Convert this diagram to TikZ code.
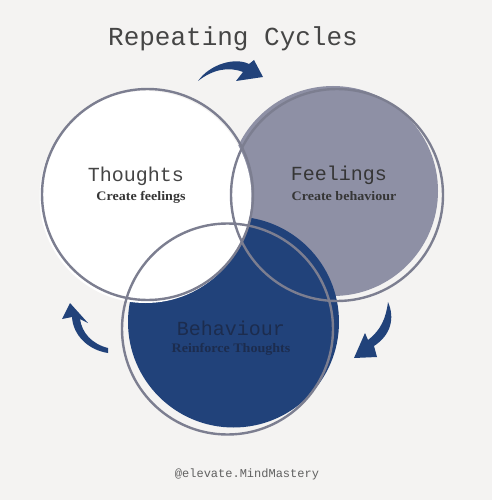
\documentclass[tikz,border=0pt]{standalone}
\usepackage{fontspec}
\setmainfont{Liberation Serif}
\newfontfamily\monof{Liberation Mono}
\newfontfamily\subf[FakeStretch=1.08]{Liberation Serif Bold}
\definecolor{bgc}{HTML}{F4F3F2}
\definecolor{ringc}{HTML}{7C7E90}
\definecolor{grayfill}{HTML}{8E90A5}
\definecolor{bluefill}{HTML}{21427A}
\definecolor{txtc}{HTML}{454545}
\definecolor{subc}{HTML}{363636}
\definecolor{navytxt}{HTML}{1C2C4E}
\tikzset{
  ring/.style={draw=ringc, line width=2.4pt},
  headtxt/.style={font=\monof\fontsize{20}{24}\selectfont, text=txtc, anchor=base, inner sep=0pt},
  subtxt/.style={font=\subf\fontsize{13}{15}\selectfont, text=subc, anchor=base, inner sep=0pt},
  curvearrow/.style={fill=bluefill},
}
\begin{document}
\begin{tikzpicture}[x=1pt,y=-1pt]
\useasboundingbox (0,0) rectangle (492,500);
\fill[bgc] (0,0) rectangle (492,500);
% fills
\fill[grayfill] (333,191) circle (105);
\fill[bluefill] (233.5,322) circle (105.5);
\fill[white] (145.5,197) circle (106);
% outlines
\draw[ring] (147.5,194.5) circle (105.5);
\draw[ring] (337,195) circle (106);
\draw[ring] (227.5,329) circle (105.5);
% title
\node[font=\monof\fontsize{26}{30}\selectfont, text=txtc, anchor=base, inner sep=0pt] (title) at (233,46) {Repeating Cycles};
% labels
\node[headtxt] (th) at (136,181) {Thoughts};
\node[subtxt] (ths) at (141,200) {Create feelings};
\node[headtxt, text=subc] (fe) at (339,180) {Feelings};
\node[subtxt] (fes) at (344,200) {Create behaviour};
\node[headtxt, text=navytxt] (be) at (231,335) {Behaviour};
\node[subtxt, text=navytxt] (bes) at (231,352) {Reinforce Thoughts};
% footer
\node[font=\monof\fontsize{12}{14}\selectfont, text=txtc!85, anchor=base, inner sep=0pt] (foot) at (247,477) {@elevate.MindMastery};
% arrows
\fill[curvearrow] (198,81) .. controls (210,64) and (235,57) .. (249,64) -- (254,60) -- (263,77) -- (236,81) -- (243,72) .. controls (228,66) and (212,70) .. (198,81) -- cycle;
\fill[curvearrow] (108,353) .. controls (88,350) and (73,335) .. (72,317) -- (62,319) -- (70,303) -- (88,323) -- (80,319) .. controls (82,333) and (92,344) .. (108,348) -- cycle;
\fill[curvearrow] (388,302) .. controls (395,318) and (391,335) .. (374,346) -- (377,357) -- (354,358) -- (365,333) -- (368,340) .. controls (381,330) and (386,318) .. (388,302) -- cycle;
\end{tikzpicture}
\end{document}
